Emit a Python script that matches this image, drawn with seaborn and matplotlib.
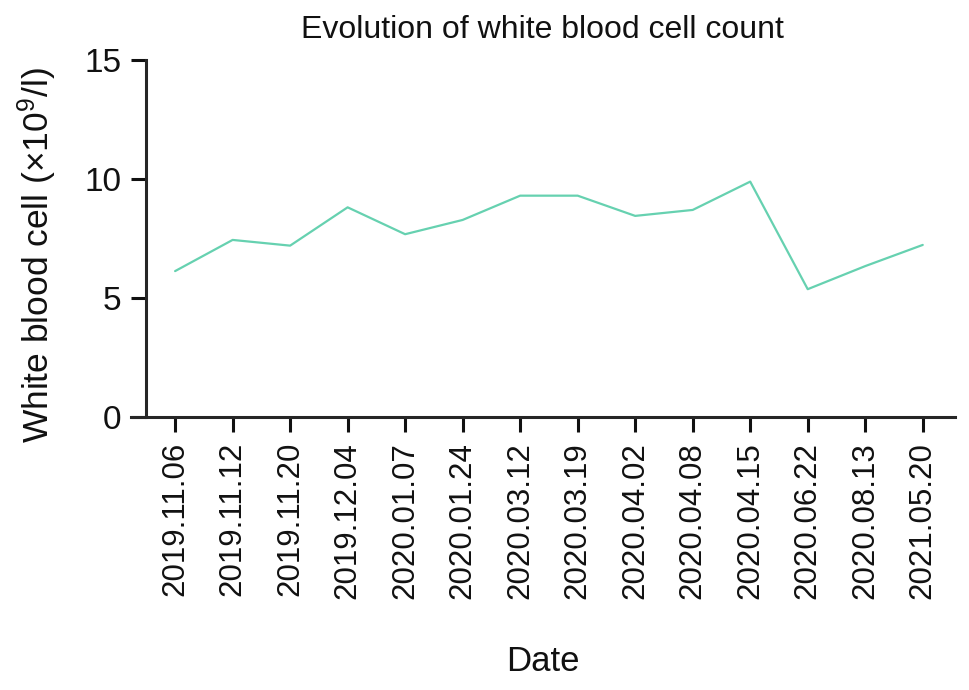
import matplotlib
matplotlib.use("Agg")
import matplotlib.pyplot as plt
import seaborn as sns
import pandas as pd

dates = ["2019.11.06", "2019.11.12", "2019.11.20", "2019.12.04", "2020.01.07",
         "2020.01.24", "2020.03.12", "2020.03.19", "2020.04.02", "2020.04.08",
         "2020.04.15", "2020.06.22", "2020.08.13", "2021.05.20"]
wbc = [6.13, 7.44, 7.2, 8.81, 7.68, 8.28, 9.3, 9.3, 8.45, 8.7, 9.89, 5.37, 6.34, 7.23]
yticks = [0, 5, 10, 15]

sns.set_style("ticks")
plt.rcParams['font.family'] = ['Liberation Sans', 'DejaVu Sans']
plt.rcParams['mathtext.fontset'] = 'custom'
plt.rcParams['mathtext.rm'] = 'Liberation Sans'
plt.rcParams['mathtext.it'] = 'Liberation Sans'

df = pd.DataFrame({"Date": dates, "WBC": wbc})
df["pos"] = range(len(df))

fig = plt.figure(figsize=(9.69, 6.9), dpi=100)
ax = fig.add_axes([0.135, 0.3957, 0.8505, 0.5173])

sns.lineplot(data=df, x="pos", y="WBC", color="#66d1b0", linewidth=1.6, ax=ax)

ax.set_xlim(-0.77, 13.56)
ax.set_ylim(0, 15)

sns.despine(ax=ax)
ax.spines['left'].set_position(('data', -0.5))
for s in ['left', 'bottom']:
    ax.spines[s].set_linewidth(2.2)

# spine repositioning resets ticks, so set them afterwards
ax.set_xticks(df["pos"])
ax.set_xticklabels(dates, rotation=90)
ax.set_yticks(yticks)
ax.set_yticklabels([str(t) for t in yticks])
ax.tick_params(axis='both', width=2.2, length=11, pad=7, colors='#111111')
ax.tick_params(axis='x', labelsize=22.5)
ax.tick_params(axis='y', labelsize=24)

ax.set_title("Evolution of white blood cell count", fontsize=23, pad=16, color='#111111')
ax.set_xlabel("Date", fontsize=25, color='#111111')
ax.xaxis.set_label_coords(0.5, -0.685)
ax.set_ylabel(r"White blood cell ($\times$10$^9$/l)", fontsize=25.5, color='#111111')
ax.yaxis.set_label_coords(-0.113, 0.454)
ax.yaxis.label.set_verticalalignment('center')
ax.xaxis.label.set_verticalalignment('center')

fig.savefig("out.png", dpi=100)
